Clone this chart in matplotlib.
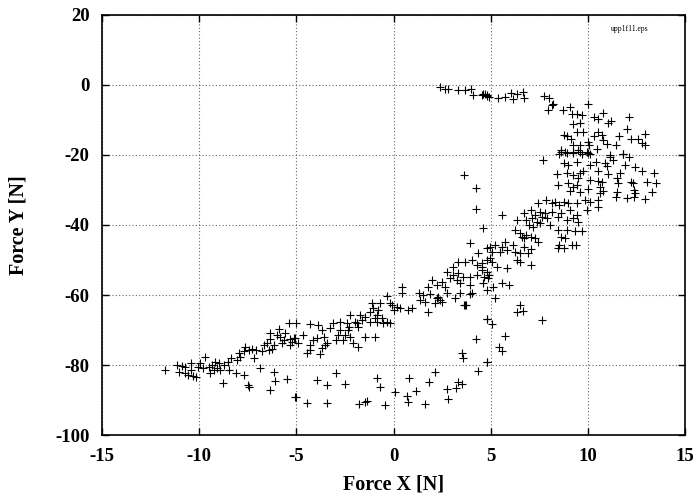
import numpy as np
import matplotlib
matplotlib.use("Agg")
import matplotlib.pyplot as plt

# values (Force X [N], Force Y [N])
top_x = [2.4, 2.65, 2.8, 3.3, 3.7, 4.0, 4.1, 4.55, 4.7, 4.8, 4.6, 4.8, 4.9, 5.4, 5.75,
         6.05, 6.15, 6.35, 6.65, 6.7]
top_y = [-0.6, -1.1, -1.1, -1.4, -1.5, -1.1, -2.9, -2.8, -2.5, -3.2, -2.6, -2.9, -3.4, -3.7, -3.4,
         -2.3, -3.9, -2.6, -2.0, -3.7]

cloud_x = [7.75, 8.0, 8.2, 8.15, 7.95, 8.7, 9.1, 9.2, 9.45, 9.7, 9.6, 9.25, 10.0, 10.3, 10.5,
           10.8, 11.05, 11.2, 12.1, 12.0, 11.6, 12.2, 12.6, 12.8, 12.95, 12.95, 11.45, 8.75, 8.95,
           9.15, 9.45, 9.75, 10.5, 10.3, 10.75, 10.8, 11.0, 10.0, 10.05, 9.25, 9.6, 8.6, 8.85,
           8.5, 9.25, 9.5, 9.7, 9.95, 10.1, 10.45, 11.15, 11.8,
           8.6, 8.95, 9.25, 9.6, 10.0, 7.7, 8.75, 9.0, 9.45, 10.1, 10.4, 10.9, 11.15, 11.3,
           11.0, 11.8, 12.1, 11.9, 12.45, 12.8, 13.4, 8.4, 8.95, 9.25, 9.6, 9.75, 10.5, 11.05,
           11.65, 9.5, 10.1, 10.5, 10.75, 11.5, 11.55, 12.2, 12.3, 13.05, 13.5, 8.45, 9.0, 9.25,
           9.45, 9.1, 9.6, 10.0, 10.65, 10.8, 10.65, 11.5, 11.45, 12.0, 12.35, 12.45, 12.35,
           12.95, 13.3]
cloud_y = [-3.1, -3.7, -5.4, -5.7, -7.1, -7.1, -6.3, -8.3, -8.3, -8.6, -10.9, -11.1, -5.4, -9.1, -9.7,
           -8.0, -10.9, -10.3, -9.1, -12.6, -14.6, -15.4, -15.4, -16.6, -14.0, -17.1, -17.1, -14.3, -14.6,
           -15.4, -13.4, -13.4, -13.4, -14.6, -14.3, -15.7, -16.9, -16.3, -17.1, -17.1, -17.1, -18.6, -19.1,
           -19.7, -19.1, -18.6, -19.7, -19.1, -19.7, -18.3, -20.0, -19.7,
           -19.1, -19.4, -19.4, -19.1, -19.4, -21.4, -22.3, -22.9, -22.0, -22.9, -22.0, -22.3, -20.6, -21.4,
           -23.1, -19.7, -20.6, -22.9, -23.4, -24.6, -25.1, -25.4, -25.1, -25.7, -25.1, -24.6, -24.6, -25.4,
           -25.1, -26.6, -27.1, -27.4, -27.7, -26.6, -28.0, -27.7, -28.0, -27.7, -28.0, -28.6, -28.0, -29.1,
           -28.6, -30.3, -30.6, -29.7, -29.1, -30.3, -30.9, -30.6, -32.0, -32.3, -30.0, -30.9, -32.0,
           -32.6, -30.6]

band_x = [8.75, 9.0, 9.45, 9.85, 10.1, 10.5, 10.5, 9.95, 8.3, 8.5, 8.15, 7.85, 7.45, 7.05, 7.55,
          7.8, 8.15, 8.6, 9.1, 9.45, 9.25, 9.5, 8.95, 8.45, 7.9, 7.65, 7.3, 6.7, 7.15, 7.4, 7.55,
          8.05, 8.45, 8.95, 9.35, 9.7, 6.35, 6.8, 6.95, 7.2, 5.6, 4.6, 6.25, 6.5, 6.8, 7.05, 7.3,
          7.45, 8.6, 8.85, 8.5, 8.45, 8.75, 9.2, 9.4, 6.6, 6.7, 5.75, 4.95, 5.2, 5.6, 6.15, 6.7,
          7.05, 6.9, 6.5, 6.25, 5.85, 5.5, 5.05, 4.95, 4.8, 5.05, 4.55, 5.35, 5.85, 6.35, 6.5,
          7.05, 4.55, 4.8, 4.9, 4.65, 5.1, 5.95, 5.6,
          3.65, 4.25, 4.25, 3.95, 4.35, 4.8, 3.3, 3.7, 4.05, 4.3, 4.55, 3.05, 2.75, 3.05, 3.3,
          3.6, 3.95, 4.3, 2.9, 3.25, 3.4, 2.0, 2.5, 2.25, 1.75, 0.45, 2.65, 3.95, 4.6, 4.85,
          -0.35, 0.45, 1.5, 1.9, 2.25, 2.75, 3.4, 3.95, 1.35, 1.6, 2.15, 2.5, 3.15, 3.7, 1.75,
          -0.1, 0.2, 0.35, 0.75, 0.95, 0.0, -1.1, -0.7, -0.2, -1.05, -0.8, -1.2, -0.85, -0.95,
          -0.6, -0.35, -0.2, -0.55, -0.85, -1.2, -1.45, -1.7, -1.6, -1.9, -2.25, -2.3, -2.0,
          -1.85, -1.45, -0.95, -2.1, -1.85, -2.35, -2.4, -2.75, -3.1, -3.25, -2.75, -2.85, -2.5,
          -2.25, -2.6, -2.95, -3.7, -3.9, -4.3, -3.6, -3.95, -3.4, -3.55, -4.15, -4.3, -4.65,
          -5.05, -4.9, -5.0, -3.7, -4.3, -4.45, -3.8, -5.2, 1.3, 2.3, 2.4, 3.75, 4.05, 4.8, 5.2]
band_y = [-33.4, -33.7, -33.7, -32.9, -33.4, -32.9, -34.9, -35.7, -33.4, -34.3, -33.7, -32.9, -33.7, -35.7, -36.3,
          -36.6, -36.3, -36.6, -35.7, -37.1, -38.0, -39.1, -38.6, -37.7, -38.0, -37.7, -37.1, -36.6, -38.0, -39.1, -39.4,
          -40.0, -41.4, -41.4, -41.7, -41.7, -38.6, -38.6, -40.0, -40.6, -37.1, -40.9, -41.4, -42.3, -42.9, -43.4, -43.7,
          -44.9, -43.4, -43.7, -45.7, -46.6, -46.6, -45.7, -45.7, -43.4, -43.7, -44.9, -46.3, -45.7, -46.3, -45.7, -46.3,
          -46.9, -48.0, -48.0, -47.7, -47.1, -47.7, -47.7, -49.4, -50.0, -50.6, -50.9, -52.0, -52.3, -50.0, -50.6,
          -51.4, -52.9, -53.4, -54.3, -54.9, -57.7, -57.1, -56.6,
          -25.7, -29.4, -35.4, -45.1, -48.0, -46.6, -50.6, -50.6, -50.0, -51.4, -52.0, -52.0, -53.4, -54.3, -53.7,
          -54.9, -54.9, -54.3, -55.1, -55.7, -56.6, -55.7, -56.3, -57.1, -57.7, -57.7, -57.7, -57.1, -56.6, -55.1,
          -60.3, -59.4, -60.0, -59.7, -60.9, -59.4, -59.4, -59.7, -61.4, -61.9, -62.3, -61.9, -60.9, -62.9, -64.9,
          -62.9, -63.4, -63.7, -64.3, -63.7, -64.3, -62.3, -62.3, -62.3, -63.7, -64.3, -64.9, -65.7, -66.6,
          -66.6, -67.7, -68.0, -68.0, -67.7, -67.7, -66.3, -65.7, -67.1, -68.0, -65.7, -69.1, -67.7,
          -69.1, -72.0, -72.0, -73.7, -74.9, -70.0, -68.0, -67.7, -68.0, -69.4, -70.0, -71.4, -71.4,
          -72.0, -72.9, -72.9, -70.0, -68.6, -68.3, -72.0, -72.3, -73.7, -74.3, -72.9, -74.3, -71.4,
          -72.3, -73.7, -68.0, -75.1, -75.7, -76.6, -76.9, -73.4, -59.4, -60.6, -61.4, -62.9, -59.4, -58.6, -60.9]

left_x = [-11.75, -11.15, -10.9, -10.75, -10.4, -11.05, -10.75, -10.55, -10.3, -10.15, -10.4, -10.05,
          -9.95, -9.7, -9.8, -9.5, -9.35, -9.25, -9.1, -9.2, -9.0, -9.45, -8.95, -8.7, -8.5, -8.35,
          -8.45, -8.1, -7.7, -7.95, -7.9, -7.7, -7.65, -7.45, -8.05, -7.2, -7.3, -7.05, -6.85, -6.75,
          -6.65, -6.5, -6.35, -6.4, -6.25, -6.15, -6.35, -5.9, -5.85, -5.75, -5.65, -5.4, -5.6,
          -5.35, -5.35, -5.1, -6.0]
left_y = [-81.4, -80.0, -80.3, -80.6, -79.4, -82.0, -82.3, -82.9, -83.1, -83.4, -81.4, -80.6,
          -79.4, -77.7, -80.9, -80.6, -80.0, -81.4, -80.9, -79.1, -79.4, -82.3, -81.4, -80.0, -79.1, -78.0,
          -81.4, -82.3, -82.9, -76.6, -77.7, -76.0, -74.9, -75.7, -78.6, -78.0, -75.4, -75.7, -80.9, -76.0,
          -74.3, -73.7, -72.6, -75.7, -75.4, -74.3, -70.9, -69.7, -72.0, -73.7, -72.9, -68.0, -70.9,
          -72.6, -74.3, -72.3, -71.4]

low_x = [-8.75, -7.5, -7.45, -6.15, -6.1, -6.35, -5.5, -5.05, -5.0, -4.45, -3.95, -3.4, -3.4,
         -2.95, -2.5, -1.8, -1.45, -1.35, -0.85, -0.7, -0.45, 0.1, 0.7, 0.75, 0.8, 1.15, 1.6,
         1.85, 2.15, 2.75, 2.8, 3.2, 3.3, 3.55, 4.35, 4.25, 3.55, 3.6, 4.8, 4.8, 3.65,
         6.5, 6.35, 6.65, 7.65, 4.8, 5.05, 5.75, 5.45, 5.6, 4.8]
low_y = [-85.1, -85.7, -86.3, -82.0, -84.6, -87.1, -84.0, -89.1, -89.1, -90.9, -84.3, -85.7, -90.9,
         -82.3, -85.4, -91.1, -90.6, -90.3, -83.7, -86.3, -91.4, -87.7, -88.9, -90.6, -83.7, -87.4, -91.1,
         -84.9, -82.0, -86.9, -89.7, -86.6, -84.9, -85.4, -81.7, -72.6, -76.6, -78.0, -66.9, -79.1, -62.9,
         -62.9, -64.9, -64.6, -67.1, -66.9, -68.3, -71.7, -74.9, -75.9, -79.1]

fx = np.array(top_x + cloud_x + band_x + left_x + low_x)
fy = np.array(top_y + cloud_y + band_y + left_y + low_y)

x_ticks = [-15, -10, -5, 0, 5, 10, 15]
y_ticks = [-100, -80, -60, -40, -20, 0, 20]

plt.rcParams['font.family'] = ['Liberation Serif', 'DejaVu Serif']

fig = plt.figure(figsize=(6.97, 4.98), dpi=100)
ax = fig.add_axes([102/697, 1 - 435/498, 583/697, 420/498])

ax.plot(fx, fy, '+', color='black', markersize=6, markeredgewidth=0.8, zorder=3)

ax.set_xlim(-15, 15)
ax.set_ylim(-100, 20)
ax.set_xticks(x_ticks)
ax.set_yticks(y_ticks)
ax.set_xticklabels([str(t) for t in x_ticks], fontsize=13.5, fontweight='bold')
ax.set_yticklabels([str(t) for t in y_ticks], fontsize=13.5, fontweight='bold')
ax.tick_params(direction='in', length=5, width=1, top=True, right=True)
ax.tick_params(axis='y', pad=9)
ax.tick_params(axis='x', pad=9)
ax.grid(True, linestyle=(0, (1, 2)), color='#666666', linewidth=0.8)
for s in ax.spines.values():
    s.set_linewidth(1.2)

ax.set_xlabel('Force X [N]', fontsize=14.5, fontweight='bold', labelpad=7)
ylab = ax.set_ylabel('Force Y [N]', fontsize=14.5, fontweight='bold')
ylab.set_va('center')
ax.yaxis.set_label_coords(-0.144, 0.5)

ax.text(0.905, 0.975, 'upp1f11.eps', transform=ax.transAxes, fontsize=5.5,
        ha='center', va='top')

fig.savefig('out.png', dpi=100)
